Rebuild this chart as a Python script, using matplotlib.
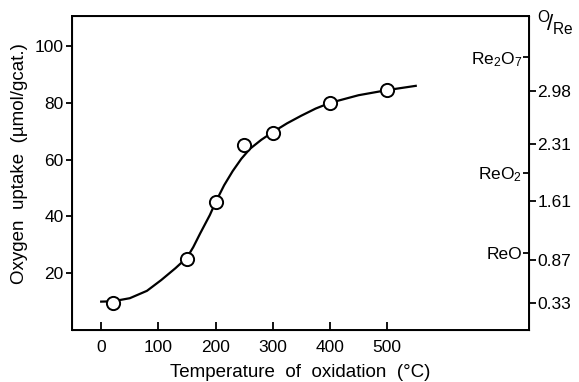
import numpy as np
import matplotlib
matplotlib.use('Agg')
import matplotlib.pyplot as plt

plt.rcParams['font.family'] = ['Liberation Sans', 'DejaVu Sans']
plt.rcParams['mathtext.default'] = 'regular'

# measured points
temp = [20, 150, 200, 250, 300, 400, 500]
uptake = [9.5, 25, 45, 65, 69.5, 80, 84.5]

# hand-drawn curve
curve_x = [0, 20, 50, 80, 105, 130, 150, 161, 173, 190, 200, 215, 230, 245, 260, 280,
           300, 325, 350, 375, 400, 450, 500, 550]
curve_y = [10, 10.1, 11.2, 13.8, 17.6, 21.8, 25.5, 29.2, 34, 40.5, 45, 51, 56, 60.3, 63.8, 67,
           69.7, 72.8, 75.5, 78, 80, 82.7, 84.5, 86]

# right axis: O/Re ratio
o_re_ticks = [0.33, 0.87, 1.61, 2.31, 2.98]
oxide_pos = [0.96, 1.96, 3.4]
oxide_labels = ['ReO', r'ReO$_2$', r'Re$_2$O$_7$']
scale = 28.3  # umol/gcat per unit O/Re

fig = plt.figure(figsize=(5.79, 3.82), dpi=100)
ax = fig.add_axes([0.1244, 0.1361, 0.7892, 0.8220])
ax.plot(curve_x, curve_y, color='black', lw=1.6, zorder=2)
ax.plot(temp, uptake, 'o', ms=9.5, mfc='white', mec='black', mew=1.4, zorder=3)

ax.set_xlim(-51, 748)
ax.set_ylim(0, 110.6)
ax.set_xticks([0, 100, 200, 300, 400, 500])
ax.set_yticks([20, 40, 60, 80, 100])
ax.tick_params(axis='x', direction='in', length=6, width=1.3, labelsize=12.5, pad=7)
ax.tick_params(axis='y', direction='out', length=4, width=1.3, labelsize=12.5, pad=2)
for s in ax.spines.values():
    s.set_linewidth(1.4)
ax.set_xlabel('Temperature  of  oxidation  (°C)', fontsize=13.5, labelpad=7)
ax.set_ylabel('Oxygen  uptake  (µmol/gcat.)', fontsize=13.5)
ax.yaxis.set_label_coords(-0.097, 0.53)

ax2 = ax.twinx()
ax2.set_ylim(0, 110.6 / scale)
ax2.set_yticks(o_re_ticks)
ax2.set_yticklabels([f'{v:.2f}' for v in o_re_ticks])
ax2.tick_params(axis='y', direction='out', length=5, width=1.3, labelsize=12.5, pad=1)

ax3 = ax.twinx()
ax3.set_ylim(0, 110.6 / scale)
ax3.yaxis.tick_left()
ax3.spines['left'].set_position(('axes', 1.0))
ax3.set_yticks(oxide_pos)
ax3.set_yticklabels(oxide_labels)
ax3.tick_params(axis='y', direction='out', length=4, width=1.3, labelsize=12.5, pad=1)
for s in ax3.spines.values():
    s.set_visible(False)

fig.text(0.928, 0.920, r'$^{O}\!/_{Re}$', fontsize=16)

fig.savefig('out.png', dpi=100)
